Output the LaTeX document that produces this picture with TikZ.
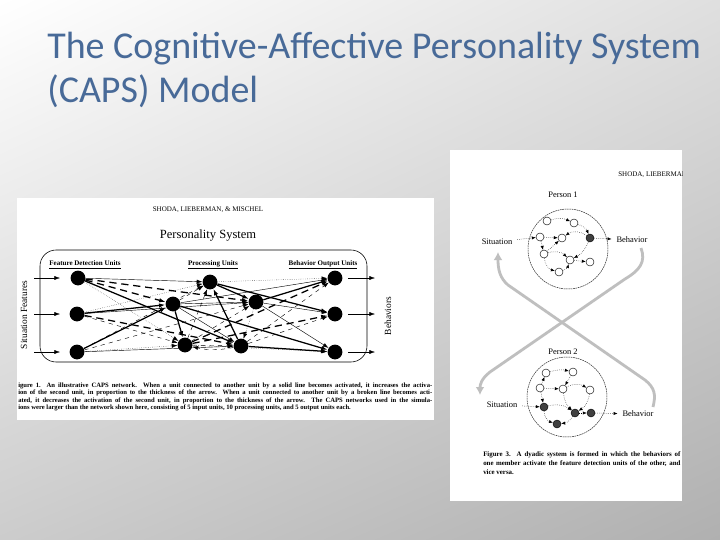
\documentclass[tikz,border=0pt]{standalone}
\usepackage{fontspec}
\setmainfont{Liberation Serif}
\newfontfamily\slidefont{Carlito}
\usetikzlibrary{arrows.meta, shadings}
\definecolor{titleblue}{RGB}{72,106,152}
\newcommand\scantext[1]{\fontsize{#1}{#1}\selectfont}
\tikzset{
  unit/.style={circle, fill=black, minimum size=3.7mm, inner sep=0pt},
  cell/.style={circle, draw=black, line width=0.3pt, fill=white, minimum size=2mm, inner sep=0pt},
  hotcell/.style={cell, fill=black!75},
  person/.style={circle, draw=black!85, line width=0.35pt, dash pattern=on 1.2pt off 0.5pt, minimum size=20mm, inner sep=0pt},
  exthin/.style={-{Latex[length=1.4mm,width=1mm]}, line width=0.3pt},
  exthick/.style={-{Latex[length=1.6mm,width=1.1mm]}, line width=0.9pt},
  inthin/.style={exthin, dashed},
  inthick/.style={exthick, dash pattern=on 1.8mm off 1.2mm},
  faint/.style={exthin, densely dotted, line width=0.25pt},
  link/.style={-{Latex[length=1mm,width=0.8mm]}, densely dotted, line width=0.35pt},
  feedback/.style={-{Latex[length=2mm,width=2.2mm]}, line width=0.7mm, gray!50},
}
\begin{document}
\begin{tikzpicture}[x=0.25mm, y=-0.25mm]
  % slide background
  \useasboundingbox (0,0) rectangle (720,540);
  \shade[upper left=white, upper right=gray!25, lower left=gray!40, lower right=gray!62]
    (0,0) rectangle (720,540);
  \node[anchor=base west, align=left, text=titleblue, inner sep=0pt,
        font=\slidefont\fontsize{27pt}{30.6pt}\selectfont] (title) at (47,102)
    {The Cognitive-Affective Personality System\\(CAPS) Model};

  % left figure
  \fill[white] (17,198) rectangle (434,420);
  \node[font=\scantext{5pt}] (hdrleft) at (208,210) {SHODA, LIEBERMAN, \& MISCHEL};
  \node[font=\scantext{8.9pt}] (persys) at (208,236) {Personality System};
  \draw[line width=0.4pt, rounded corners=4mm] (40,250) rectangle (367,362);
  \node[font=\scantext{5pt}\bfseries] (fdu) at (85,265) {\underline{Feature Detection Units}};
  \node[font=\scantext{5pt}\bfseries] (pu) at (213,265) {\underline{Processing Units}};
  \node[font=\scantext{5pt}\bfseries] (bou) at (323,265) {\underline{Behavior Output Units}};
  \node[rotate=90, font=\scantext{6.7pt}] (sitfeat) at (24,315) {Situation Features};
  \node[rotate=90, font=\scantext{6.7pt}] (behs) at (388,316) {Behaviors};

  \node[unit] (i1) at (78,278) {};
  \node[unit] (i2) at (77,314) {};
  \node[unit] (i3) at (77,352) {};
  \node[unit] (p1) at (210,282) {};
  \node[unit] (p2) at (173,304) {};
  \node[unit] (p3) at (256,302) {};
  \node[unit] (p4) at (185,345) {};
  \node[unit] (p5) at (241,346) {};
  \node[unit] (o1) at (335,278) {};
  \node[unit] (o2) at (335,314) {};
  \node[unit] (o3) at (335,352) {};

  \foreach \k/\y in {1/278, 2/314, 3/352} {
    \coordinate (sfa\k) at (34,\y);
    \coordinate (sfb\k) at (60,\y);
    \coordinate (bha\k) at (348,\y);
    \coordinate (bhb\k) at (375,\y);
    \draw[exthin] (sfa\k) -- (sfb\k);
    \draw[exthin] (bha\k) -- (bhb\k);
  }

  \foreach \a/\b/\s in {i1/p1/exthin, i1/p2/inthick, i1/p3/inthick, i1/p4/faint, i1/p5/exthick,
                        i2/p1/faint, i2/p2/exthick, i2/p3/exthin, i2/p4/inthin, i2/p5/inthick,
                        i3/p1/inthin, i3/p2/exthick, i3/p3/inthin, i3/p4/faint, i3/p5/exthin,
                        p2/p1/inthin, p2/p3/exthin, p2/p4/exthick, p5/p1/exthick, p1/p3/exthick,
                        p4/p5/inthin, p2/p5/exthin, p4/p3/inthin, p3/p5/faint, p4/p1/inthin,
                        p1/o1/faint, p1/o2/exthick, p2/o1/exthin, p2/o3/exthick, p3/o1/exthick,
                        p3/o2/exthin, p3/o3/exthin, p4/o1/inthick, p4/o2/inthick, p4/o3/faint,
                        p5/o1/inthin, p5/o2/inthin, p5/o3/exthick}
    \draw[\s] (\a) -- (\b);
  \draw[inthin] (p5) to[bend left=12] (p4);

  \begin{scope}[font=\scantext{4.7pt}\bfseries]
    \node[anchor=base west, inner sep=0pt] (capa) at (18,387)
      {\makebox[103.5mm][s]{igure 1.\ \ An illustrative CAPS network. When a unit connected to another unit by a solid line becomes activated, it increases the activa-}};
    \node[anchor=base west, inner sep=0pt] (capb) at (18,394.5)
      {\makebox[103.5mm][s]{ion of the second unit, in proportion to the thickness of the arrow. When a unit connected to another unit by a broken line becomes acti-}};
    \node[anchor=base west, inner sep=0pt] (capc) at (18,402)
      {\makebox[103.5mm][s]{ated, it decreases the activation of the second unit, in proportion to the thickness of the arrow. The CAPS networks used in the simula-}};
    \node[anchor=base west, inner sep=0pt] (capd) at (18,409.5)
      {ions were larger than the network shown here, consisting of 5 input units, 10 processing units, and 5 output units each.};
  \end{scope}

  % right figure
  \fill[white] (450,150) rectangle (682,501);
  \begin{scope}
    \clip (450,150) rectangle (682,501);
    \node[anchor=west, inner sep=0pt, font=\scantext{5pt}] (hdrright) at (618,175) {SHODA, LIEBERMAN, \& MISCHEL};
  \end{scope}
  \begin{scope}[font=\scantext{6pt}]
    \node (per1) at (563,195) {Person 1};
    \node (per2) at (563,352) {Person 2};
    \node (sit1) at (497,242) {Situation};
    \node (beh1) at (632,240) {Behavior};
    \node (sit2) at (502,405) {Situation};
    \node (beh2) at (638,414) {Behavior};
  \end{scope}
  \node[person] (pone) at (568,249) {};
  \node[person] (ptwo) at (567,397) {};

  % person 1
  \foreach \n/\x/\y in {a/547/221, b/574/223, c/540/237, d/562/238, f/544/254, g/570/260, h/590/262, i/559/272}
    \node[cell] (u\n) at (\x,\y) {};
  \node[hotcell] (ue) at (590,238) {};
  \draw[link] (ua) to[bend left=20] (ub);
  \draw[link] (ub) to[bend left=25] (ue);
  \draw[link] (uc) -- (ud);
  \draw[link] (uc) -- (uf);
  \draw[link] (uf) -- (ud);
  \draw[link] (ue) to[bend right=35] (ud);
  \draw[link] (ue) to[bend left=20] (ug);
  \draw[link] (uf) to[bend left=30] (ug);
  \draw[link] (ug) -- (uh);
  \draw[link] (uf) to[bend right=35] (ui);
  \draw[link] (ui) to[bend right=25] (ug);
  \draw[link] (sit1) -- (uc);
  \draw[link] (ue) -- (beh1);

  % person 2
  \foreach \n/\x/\y in {a/546/373, b/573/372, c/540/388, d/563/389, e/590/390}
    \node[cell] (v\n) at (\x,\y) {};
  \foreach \n/\x/\y in {f/544/407, g/575/413, h/591/413, i/557/424}
    \node[hotcell] (v\n) at (\x,\y) {};
  \draw[link] (va) to[bend left=15] (vb);
  \draw[link] (vc) -- (va);
  \draw[link] (vc) -- (vd);
  \draw[link] (vc) -- (vf);
  \draw[link] (vb) -- (vd);
  \draw[link] (vd) to[bend left=30] (ve);
  \draw[link] (vd) to[bend right=20] (vg);
  \draw[link] (ve) to[bend left=25] (vg);
  \draw[link] (vf) to[bend left=25] (vg);
  \draw[link] (vg) -- (vh);
  \draw[link] (vf) to[bend right=35] (vi);
  \draw[link] (vg) to[bend left=25] (vi);
  \draw[link] (sit2) -- (vf);
  \draw[link] (vh) -- (beh2);

  % behaviors feed the other person
  \coordinate (outone) at (641,248);
  \coordinate (intwo) at (480,395);
  \coordinate (outtwo) at (653,407);
  \coordinate (inone) at (498,252);
  \draw[feedback] (outone) .. controls (646,262) and (640,270) .. (625,279)
    -- (490,372) .. controls (481,379) and (480,385) .. (intwo);
  \draw[feedback] (outtwo) .. controls (656,395) and (655,388) .. (645,380)
    -- (508,285) .. controls (500,278) and (498,270) .. (inone);

  \begin{scope}[font=\scantext{4.9pt}\bfseries]
    \node[anchor=base west, inner sep=0pt] (cape) at (483,456)
      {\makebox[49.3mm][s]{Figure 3.\ \ A dyadic system is formed in which the behaviors of}};
    \node[anchor=base west, inner sep=0pt] (capf) at (483,465)
      {\makebox[49.3mm][s]{one member activate the feature detection units of the other, and}};
    \node[anchor=base west, inner sep=0pt] (capg) at (483,474) {vice versa.};
  \end{scope}
\end{tikzpicture}
\end{document}
